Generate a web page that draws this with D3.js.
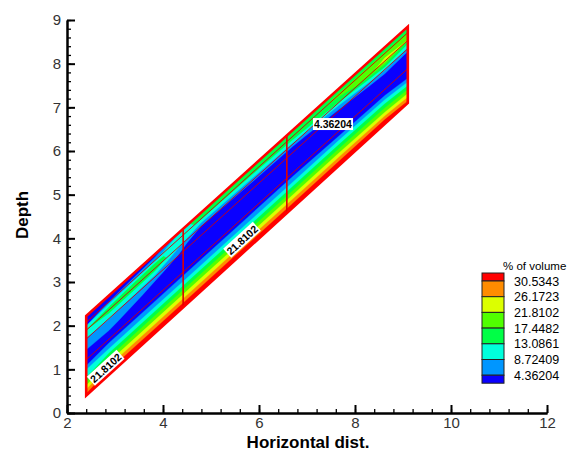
<!DOCTYPE html>
<html><head><meta charset="utf-8">
<script src="https://cdn.jsdelivr.net/npm/d3@7"></script>
<style>body{margin:0;background:#fff}svg{display:block}</style>
</head><body><svg id="c" width="580" height="453"></svg>
<script>
// ---------- data ----------
const xTicks = [2, 4, 6, 8, 10, 12];
const yTicks = [0, 1, 2, 3, 4, 5, 6, 7, 8, 9];
const levels = [4.36204, 8.72409, 13.0861, 17.4482, 21.8102, 26.1723, 30.5343];
const levelLabels = ["4.36204", "8.72409", "13.0861", "17.4482", "21.8102", "26.1723", "30.5343"];
const bandColors = ["#0a00ff", "#0096ff", "#00ffdc", "#00ff46", "#50ff00", "#dcff00", "#ff8c00", "#ff0000"];
// parallelogram (data space): x at left / right ends, y of bottom & top edges at both ends
const bandX = [2.4, 9.1];
const bandBottomY = [0.4, 7.1];
const bandTopY = [2.22, 8.85];
const zoneLinesX = [4.42, 6.58];
const gridLinesT = [0.08, 0.18, 0.29, 0.55]; // fraction across band from top edge
// % of volume field: rows = stations along band (left -> right), columns = top edge -> bottom edge
const fieldRows = [
  [2, 4, 12, 15, 13, 10, 7, 8, 5, 3, 2, 3, 6, 9, 13, 17, 21, 25, 29, 34],
  [3, 8, 14, 16, 12, 8, 5, 3, 2, 1, 1, 3, 6, 9, 13, 17, 21, 25, 29, 33],
  [16, 14, 9, 4, 1, 1, 1, 1, 1, 1, 1, 3, 6, 9, 13, 17, 21, 25, 29, 33],
  [17, 15, 11, 6, 2, 1, 1, 1, 1, 1, 1, 3, 6, 9, 13, 17, 21, 25, 29, 33],
  [17, 16, 13, 8, 3, 1, 1, 1, 1, 1, 1, 3, 6, 9, 13, 17, 21, 25, 29, 33],
  [16, 18, 17, 13, 8, 4, 1, 1, 1, 1, 1, 2, 5, 9, 13, 17, 21, 25, 29, 33],
  [15, 18, 21, 24, 17, 11, 6, 2, 1, 1, 1, 1, 4, 8, 12, 16, 20, 24, 29, 33]
];
const contourLabels = [
  {text: "21.8102", x: 2.81, y: 1.03, rotated: true},
  {text: "21.8102", x: 5.65, y: 3.96, rotated: true},
  {text: "4.36204", x: 7.54, y: 6.61, rotated: false}
];

// ---------- drawing ----------
const svg = d3.select("#c");
const xS = d3.scaleLinear().domain([2, 12]).range([67, 547]);
const yS = d3.scaleLinear().domain([0, 9]).range([413, 20]);

function toData(s, t) {
  const x = bandX[0] + s * (bandX[1] - bandX[0]);
  const yb = bandBottomY[0] + s * (bandBottomY[1] - bandBottomY[0]);
  const yt = bandTopY[0] + s * (bandTopY[1] - bandTopY[0]);
  return [x, yt + t * (yb - yt)];
}
function toPx(s, t) { const d = toData(s, t); return [xS(d[0]), yS(d[1])]; }

const nCols = fieldRows[0].length, nRows = fieldRows.length;
const values = fieldRows.flat();
const contourGen = d3.contours().size([nCols, nRows]).thresholds(levels);
const proj = d3.geoTransform({
  point(u, v) { const p = toPx(v / nRows, u / nCols); this.stream.point(p[0], p[1]); }
});
const path = d3.geoPath(proj);

const outline = [toPx(0, 0), toPx(1, 0), toPx(1, 1), toPx(0, 1)];
const g = svg.append("g");
g.append("path").attr("d", "M" + outline.join("L") + "Z").attr("fill", bandColors[0]);
contourGen(values).forEach((c, i) => {
  g.append("path").attr("d", path(c)).attr("fill", bandColors[i + 1]).attr("stroke", bandColors[i + 1]).attr("stroke-width", 0.3);
});

// thin grid lines along the band
gridLinesT.forEach(t => {
  const a = toPx(0, t), b = toPx(1, t);
  g.append("line").attr("x1", a[0]).attr("y1", a[1]).attr("x2", b[0]).attr("y2", b[1])
    .attr("stroke", "#d40000").attr("stroke-width", 0.9);
});
// zone lines
zoneLinesX.forEach(zx => {
  const s = (zx - bandX[0]) / (bandX[1] - bandX[0]);
  const a = toPx(s, 0), b = toPx(s, 1);
  g.append("line").attr("x1", a[0]).attr("y1", a[1]).attr("x2", b[0]).attr("y2", b[1])
    .attr("stroke", "#e00000").attr("stroke-width", 1.6);
});
// outline
g.append("path").attr("d", "M" + outline.join("L") + "Z").attr("fill", "none")
  .attr("stroke", "#ff0000").attr("stroke-width", 2.6).attr("stroke-linejoin", "miter");

// contour labels
const p0 = toPx(0, 1), p1 = toPx(1, 1);
const ang = Math.atan2(p1[1] - p0[1], p1[0] - p0[0]) * 180 / Math.PI;
contourLabels.forEach(l => {
  const lg = svg.append("g").attr("transform", `translate(${xS(l.x)},${yS(l.y)}) rotate(${l.rotated ? ang : 0})`);
  const txt = lg.append("text").text(l.text).attr("text-anchor", "middle").attr("dy", "0.35em")
    .attr("font-family", "Liberation Sans, Arial, sans-serif").attr("font-size", 10.5).attr("font-weight", "bold").attr("fill", "#000");
  const bb = txt.node().getBBox();
  lg.insert("rect", "text").attr("x", bb.x - 1).attr("y", bb.y).attr("width", bb.width + 2).attr("height", bb.height).attr("fill", "#fff");
});

// axes
const font = "Liberation Sans, Arial, sans-serif";
function minorTicks(domain, step) { const r = []; for (let v = domain[0]; v <= domain[1] + 1e-9; v += step) r.push(+v.toFixed(3)); return r; }
const xAxis = svg.append("g").attr("transform", `translate(0,${yS(0)})`)
  .call(d3.axisBottom(xS).tickValues(xTicks).tickSize(-8).tickSizeOuter(0).tickPadding(4).tickFormat(d3.format("d")));
const xMinor = svg.append("g").attr("transform", `translate(0,${yS(0)})`)
  .call(d3.axisBottom(xS).tickValues(minorTicks([2, 12], 0.4)).tickSize(-4).tickSizeOuter(0).tickFormat(""));
const yAxis = svg.append("g").attr("transform", `translate(${xS(2)},0)`)
  .call(d3.axisLeft(yS).tickValues(yTicks).tickSize(-8).tickSizeOuter(0).tickPadding(6).tickFormat(d3.format("d")));
const yMinor = svg.append("g").attr("transform", `translate(${xS(2)},0)`)
  .call(d3.axisLeft(yS).tickValues(minorTicks([0, 9], 0.2)).tickSize(-4).tickSizeOuter(0).tickFormat(""));
[xAxis, yAxis, xMinor, yMinor].forEach(a => {
  a.select(".domain").attr("stroke", "#000").attr("stroke-width", 2);
  a.selectAll(".tick line").attr("stroke", "#000").attr("stroke-width", 1.3);
});
[xAxis, yAxis].forEach(a => {
  a.selectAll(".tick line").attr("stroke-width", 2);
  a.selectAll("text").attr("font-family", font).attr("font-size", 15).attr("fill", "#333");
});
svg.append("text").text("Horizontal dist.").attr("x", 308).attr("y", 448).attr("text-anchor", "middle")
  .attr("font-family", font).attr("font-size", 17).attr("font-weight", "bold");
svg.append("text").text("Depth").attr("transform", "translate(28,215) rotate(-90)").attr("text-anchor", "middle")
  .attr("font-family", font).attr("font-size", 17).attr("font-weight", "bold");

// legend
const lx = 482, lw = 22, lTop = 273, half = 8, full = 15.7;
const leg = svg.append("g");
const order = bandColors.slice().reverse();
let yy = lTop;
order.forEach((c, i) => {
  const h = (i === 0 || i === order.length - 1) ? half : full;
  leg.append("rect").attr("x", lx).attr("y", yy).attr("width", lw).attr("height", h)
    .attr("fill", c).attr("stroke", "#222").attr("stroke-width", 1);
  yy += h;
});
const revLabels = levelLabels.slice().reverse();
revLabels.forEach((t, i) => {
  leg.append("text").text(t).attr("x", 514).attr("y", lTop + half + i * full + 4.5)
    .attr("font-family", font).attr("font-size", 12.5).attr("fill", "#000");
});
leg.append("text").text("% of volume").attr("x", 503).attr("y", 270)
  .attr("font-family", font).attr("font-size", 11.5).attr("fill", "#000");
</script></body></html>
